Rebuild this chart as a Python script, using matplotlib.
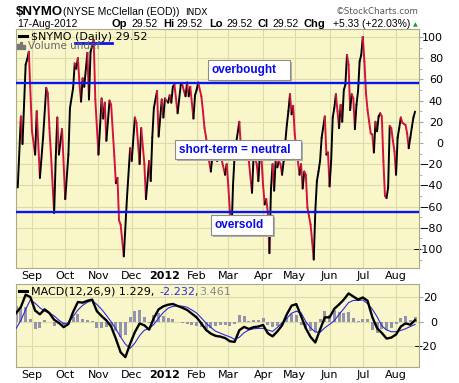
import numpy as np
import pandas as pd
import matplotlib
matplotlib.use("Agg")
import matplotlib.pyplot as plt
from matplotlib.collections import LineCollection
from matplotlib.patches import Rectangle
from matplotlib.lines import Line2D

# trading calendar (NYSE holidays inside the window)
holidays = ["2011-09-05", "2011-11-24", "2011-12-26", "2012-01-02", "2012-01-16",
            "2012-02-20", "2012-04-06", "2012-05-28", "2012-07-04"]
trading_days = pd.bdate_range("2011-08-18", "2012-08-17", freq="C", holidays=holidays)

month_labels = ["Sep", "Oct", "Nov", "Dec", "2012", "Feb", "Mar", "Apr", "May", "Jun", "Jul", "Aug"]

# $NYMO daily (trading day number, value)
nymo_day = [1, 3, 4, 6, 7, 8, 10, 12, 13, 15, 17, 19, 20, 21, 22, 24, 25, 26, 27, 29,
            31, 33, 34, 36, 37, 38, 39, 40, 41, 42, 43, 45, 46, 47, 49, 50, 52, 54, 55, 56,
            57, 59, 60, 62, 63, 64, 65, 66, 68, 70, 72, 73, 75, 76, 78, 79, 81, 82, 84, 85,
            86, 87, 89, 90, 92, 93, 94, 96, 97, 98, 99, 100, 102, 104, 105, 106, 107, 108, 109, 110,
            112, 113, 114, 115, 117, 118, 119, 120, 121, 122, 123, 124, 125, 126, 127, 128, 130, 132, 133, 134,
            135, 136, 137, 138, 139, 141, 142, 143, 144, 145, 147, 149, 150, 151, 152, 153, 154, 155, 156, 157,
            158, 159, 160, 161, 162, 163, 164, 165, 166, 167, 168, 169, 170, 171, 172, 173, 174, 175, 176, 178,
            179, 180, 181, 182, 183, 184, 185, 186, 187, 188, 189, 190, 191, 192, 193, 195, 196, 197, 198, 199,
            200, 201, 202, 203, 204, 205, 206, 207, 208, 209, 210, 211, 212, 213, 214, 215, 216, 217, 218, 219,
            220, 221, 222, 223, 224, 225, 226, 227, 228, 229, 230, 231, 232, 233, 234, 235, 236, 237, 238, 239,
            240, 241, 242, 243, 244, 245, 246, 247, 248, 249, 250, 251, 252]
nymo_val = [-42, 25, -1, 74, 79, 86, 11, -11, 30, -33, 5, 52, 47, 14, -11, -66, -14, 24, -11, 13,
            -53, -11, 33, 52, 75, 70, 80, 56, 39, 61, 53, 85, 41, 86, 97, 41, -11, 42, 23, 38,
            2, 40, 36, -12, -38, -33, -73, -77, -107, -52, -5, -17, 24, 19, -20, 14, -20, -53, -17, -36,
            5, 33, 49, 6, 41, 24, 42, 38, 45, 38, 53, 55, 28, 55, 55, 49, 44, 57, 44, 53,
            23, 45, 50, 57, 44, 30, 14, 5, -5, -18, -27, -12, -15, -5, -17, -8, -17, -30, -20, -40,
            -64, -88, -40, -12, 0, 20, -5, -10, -12, -3, -17, -47, -12, -15, -20, -36, -10, -15, -40, -58,
            -53, -66, -104, -43, -20, -45, -14, -23, -17, -20, -30, -17, 0, 17, 30, 46, 27, 35, 8, -17,
            -30, -20, -43, -27, -30, -61, -69, -77, -93, -110, -64, -36, -27, -17, 5, 25, -11, -9, -41, -17,
            24, 33, 46, 30, 14, 36, 20, 50, 55, 83, 74, 31, 46, 42, 13, 36, 49, 77, 83, 100,
            77, 47, 31, 20, 9, 8, -9, 20, 11, 25, 28, 25, -17, -50, -52, -42, 16, 14, 2, -8,
            -30, 5, 14, 24, 19, 18, 17, 9, -5, 5, 15, 24.19, 29.52]

overbought = 57
oversold = -65

# MACD(12,26,9) panel, read every third trading day
macd_day = list(range(0, 253, 3))
macd_line = [7, 12, 22, 20, 9, 6, 10, 7, 1.5, -1, -4.5, -2, 8, 16, 15.5, 17, 18, 8.5, 4.5, 1,
             -4, -14, -25, -29, -18, -8.5, -1.5, -3, -6.5, 3, 10, 12.5, 13.8, 14.4, 12.8, 11.3, 9.5, 6.5, 3.5, -1.5,
             -6.8, -9.8, -11.6, -12.2, -13.4, -16, -16.5, -7, -4.3, -6, -4.5, -4, -2.7, -9.5, -12, -8, -3, 6, 13, 14.3,
             4.5, -5.5, -12.5, -17, -6.5, 3.5, 3.5, 10.5, 14, 18, 23, 20.5, 18, 19.7, 17, 3.7, -5.3, -9.2, -13.8, -13,
             -10.5, -4, -1.4, -2.5, 1.229]
macd_signal = [-5.5, 1, 10, 17.8, 15, 11.3, 8.6, 7, 4.7, 1.2, -1.7, -1.1, 4.3, 9.5, 13.3, 15.8, 17.3, 14, 10, 5.2,
               -0.1, -6, -12.6, -18.3, -21.8, -17.5, -11.3, -7, -5.7, -2.2, 2.9, 7.5, 11, 12.4, 12.9, 12.6, 11.8, 9.5, 7, 3,
               -1.2, -4.8, -7.8, -9.4, -11, -12.4, -14.4, -12.7, -9, -6.8, -5.8, -5.5, -5.5, -6.8, -8, -4.7, -1, 2.7, 6.9, 8.5,
               7.2, 0, -5, -8.5, -8.7, -5, -2.2, 0.8, 6, 10.6, 15.5, 17.3, 17.3, 17.7, 14.7, 10.2, 4.1, -3.4, -6.8, -8.2,
               -8.2, -7.2, -5.8, -4, -2.232]
macd_hist = np.array(macd_line) - np.array(macd_signal)

months = trading_days.to_period("M")
month_ticks = [i for i in range(1, len(trading_days)) if months[i] != months[i - 1]]

W, H = 460, 383
BG = "#F9F7C9"
GRID = "#DCDCAA"
SPINE = "#A9A98C"

fig = plt.figure(figsize=(W / 100, H / 100), dpi=100)


def fx(x):
    return x / W


def fy(y):
    return 1 - y / H


def rect(l, t, r, b):
    return [l / W, 1 - b / H, (r - l) / W, (b - t) / H]


ax = fig.add_axes(rect(16, 29, 419, 268))
ax2 = fig.add_axes(rect(16, 284, 419, 367))

for a in (ax, ax2):
    a.set_facecolor(BG)
    for s in a.spines.values():
        s.set_color(SPINE)
    a.set_xlim(-0.1, 254.5)
    a.yaxis.tick_right()
    a.set_xticks(month_ticks)
    a.set_xticklabels(month_labels)
    a.tick_params(axis="x", length=0, pad=2, labelsize=8)
    for t in a.get_xticklabels():
        if t.get_text() == "2012":
            t.set_fontweight("bold")
    a.grid(True, color=GRID, lw=0.8, zorder=0)
    a.set_axisbelow(True)

# main panel
ax.set_ylim(-118, 107.5)
ax.set_yticks(range(-100, 101, 20))
ax.set_yticks(range(-110, 101, 10), minor=True)
ax.tick_params(axis="y", which="major", length=3, pad=14.3, labelsize=8, color=SPINE)
ax.tick_params(axis="y", which="minor", length=2, color=SPINE)
for t in ax.get_yticklabels():
    t.set_horizontalalignment("right")

pts = np.column_stack([nymo_day, nymo_val])
segs = np.stack([pts[:-1], pts[1:]], axis=1)
up = np.diff(nymo_val) >= 0
seg_colors = ["black" if u else "#D4123C" for u in up]
ax.add_collection(LineCollection(segs, colors=seg_colors, linewidths=1.4,
                                 capstyle="round", joinstyle="round", zorder=3))
ax.axhline(overbought, color="#0A14F0", lw=1.7, zorder=4)
ax.axhline(oversold, color="#0A14F0", lw=1.7, zorder=4)

# MACD panel
ax2.set_ylim(-37, 30.7)
ax2.set_yticks([-20, 0, 20])
ax2.tick_params(axis="y", length=3, pad=10, labelsize=8, color=SPINE)
for t in ax2.get_yticklabels():
    t.set_horizontalalignment("right")
ax2.bar(macd_day, macd_hist, width=1.9, color="#9494AE", zorder=2)
ax2.plot(macd_day, macd_signal, color="#2A2AE0", lw=0.8, zorder=3)
ax2.plot(macd_day, macd_line, color="black", lw=1.7, zorder=4)

# header
fig.text(fx(16), fy(15), "$NYMO", fontsize=9.5, fontweight="bold", family="Liberation Sans")
fig.text(fx(63), fy(15), "(NYSE McClellan (EOD))", fontsize=7.5, family="Liberation Sans")
fig.text(fx(185), fy(15), "INDX", fontsize=6.5, family="DejaVu Sans")
fig.text(fx(419), fy(14), "\u00a9StockCharts.com", ha="right", fontsize=6.3, color="#555555",
         family="DejaVu Sans")
fig.text(fx(17), fy(27), "17-Aug-2012", fontsize=7.5, family="Liberation Sans")
quote = [("Op", 112, True), ("29.52", 131, False), ("Hi", 163, True), ("29.52", 176, False),
         ("Lo", 209, True), ("29.52", 226, False), ("Cl", 258, True), ("29.52", 272, False),
         ("Chg", 304, True), ("+5.33 (+22.03%)", 333, False)]
for s, x, b in quote:
    fig.text(fx(x), fy(27), s, fontsize=8 if b else 7.5, fontweight="bold" if b else "normal",
             family="Liberation Sans")
fig.text(fx(413), fy(26), "\u25b2", fontsize=4.5, color="#1E9A3A", family="DejaVu Sans")

# legends inside the panels
fig.add_artist(Line2D([fx(19), fx(27)], [fy(36), fy(36)], lw=2.2, color="black"))
fig.text(fx(31), fy(40), "$NYMO (Daily) 29.52", fontsize=8, family="DejaVu Sans")
fig.add_artist(Line2D([fx(75), fx(112)], [fy(43), fy(43)], lw=2, color="#0A14F0"))
for x0, h in ((17, 5), (20, 7), (23, 4)):
    fig.add_artist(Rectangle((fx(x0), fy(49)), 2 / W, h / H, transform=fig.transFigure,
                             color="#777777", zorder=5))
fig.text(fx(28), fy(49), "Volume undef", fontsize=7.5, color="#666666", family="DejaVu Sans")

fig.add_artist(Line2D([fx(19), fx(27)], [fy(291), fy(291)], lw=2.2, color="black"))
fig.text(fx(31), fy(295), "MACD(12,26,9) 1.229,", fontsize=8, family="DejaVu Sans")
fig.text(fx(159), fy(295), "-2.232,", fontsize=8, color="#2A2AE0", family="DejaVu Sans")
fig.text(fx(199), fy(295), "3.461", fontsize=8, color="#888888", family="DejaVu Sans")


def label_box(l, t, r, b, s):
    fig.add_artist(Rectangle((fx(l + 2), fy(b + 2)), (r - l) / W, (b - t) / H,
                             transform=fig.transFigure, facecolor="#AFAFAF",
                             edgecolor="none", zorder=5))
    fig.add_artist(Rectangle((fx(l), fy(b)), (r - l) / W, (b - t) / H,
                             transform=fig.transFigure, facecolor="white",
                             edgecolor="#8C8C8C", lw=0.8, zorder=6))
    fig.text(fx(l + 4), fy((t + b) / 2 + 0.5), s, color="#0A0AE6", fontsize=8.5,
             fontweight="bold", family="Liberation Sans", va="center", zorder=7)


label_box(208, 60, 290, 80, "overbought")
label_box(175, 140, 301, 159, "short-term = neutral")
label_box(211, 215, 273, 235, "oversold")

fig.savefig("out.png", dpi=100, facecolor="white")
